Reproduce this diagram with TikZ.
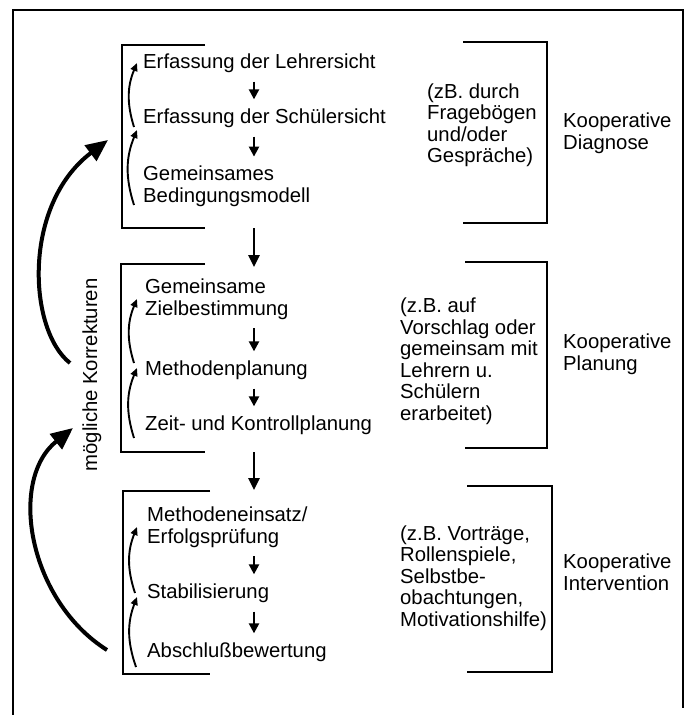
\documentclass[tikz,border=0pt]{standalone}
\usepackage{fontspec}
\setmainfont{Liberation Sans}
\usetikzlibrary{arrows.meta}

\begin{document}
\begin{tikzpicture}[x=1pt, y=-1pt,
  txt/.style={anchor=west, inner sep=0pt, align=left, font=\fontsize{20.3}{21.5}\selectfont},
  brk/.style={line width=2.8pt},
  down/.style={line width=2.3pt, -{Triangle[length=10pt,width=10pt]}, shorten <=9pt, shorten >=9pt},
  link/.style={line width=2.5pt, -{Triangle[length=12pt,width=11pt]}},
  back/.style={line width=1.9pt, -{Triangle[length=8pt,width=7pt]}},
  big/.style={line width=4pt, -{Triangle[length=22pt,width=19pt]}}]
\useasboundingbox (0,0) rectangle (688,715);
\fill[white] (0,0) rectangle (688,715);

% outer frame
\draw[line width=2.4pt] (13,715) -- (13,10) -- (683,10) -- (683,708);

% brackets
\foreach \t/\b/\x/\e in {45/228/122/205, 264/452/121/205, 491/674/123/210}
  \draw[brk] (\e,\t) -- (\x,\t) -- (\x,\b) -- (\e,\b);
\foreach \t/\b/\x/\e in {42/223/547/463, 262/448/547/465, 486/672/552/467}
  \draw[brk] (\e,\t) -- (\x,\t) -- (\x,\b) -- (\e,\b);

% Diagnose
\node[txt] (l1a) at (143,63) {Erfassung der Lehrersicht};
\node[txt] (l1b) at (143,118) {Erfassung der Schülersicht};
\node[txt] (l1c) at (143,186) {Gemeinsames\\Bedingungsmodell};
\node[txt] (n1) at (427,125) {(zB. durch\\Fragebögen\\und/oder\\Gespräche)};
\node[txt] (k1) at (563,133) {Kooperative\\Diagnose};

% Planung
\node[txt] (l2a) at (145,299) {Gemeinsame\\Zielbestimmung};
\node[txt] (l2b) at (145,370) {Methodenplanung};
\node[txt] (l2c) at (145,425) {Zeit- und Kontrollplanung};
\node[txt] (n2) at (400,361) {(z.B. auf\\Vorschlag oder\\gemeinsam mit\\Lehrern u.\\Schülern\\erarbeitet)};
\node[txt] (k2) at (563,354) {Kooperative\\Planung};

% Intervention
\node[txt] (l3a) at (147,527) {Methodeneinsatz/\\Erfolgsprüfung};
\node[txt] (l3b) at (147,593) {Stabilisierung};
\node[txt] (l3c) at (147,652) {Abschlußbewertung};
\node[txt] (n3) at (400,578) {(z.B. Vorträge,\\Rollenspiele,\\Selbstbe-\\obachtungen,\\Motivationshilfe)};
\node[txt] (k3) at (563,572) {Kooperative\\Intervention};

\node[txt, anchor=center, rotate=90] (mk) at (92,375) {mögliche Korrekturen};

% steps
\coordinate (m) at (254,0);
\foreach \a/\b in {l1a/l1b, l1b/l1c, l2a/l2b, l2b/l2c, l3a/l3b, l3b/l3c}
  \draw[down] (\a.south -| m) -- (\b.north -| m);

\coordinate (c1) at (254,228);
\coordinate (c2) at (254,267);
\coordinate (c3) at (254,452);
\coordinate (c4) at (254,490);
\draw[link] (c1) -- (c2);
\draw[link] (c3) -- (c4);

% small feedback arcs
\draw[back] ([shift={(-9pt,-9pt)}]l1b.west) to[bend left=20] ([xshift=-6pt]l1a.west);
\draw[back] ([shift={(-9pt,-19pt)}]l1c.west) to[bend left=20] ([shift={(-6pt,-12pt)}]l1b.west);
\draw[back] ([shift={(-11pt,7pt)}]l2b.west) to[bend left=20] ([xshift=-8pt]l2a.west);
\draw[back] ([shift={(-11pt,-13pt)}]l2c.west) to[bend left=20] ([shift={(-8pt,2pt)}]l2b.west);
\draw[back] ([xshift=-12pt]l3b.west) to[bend left=20] ([xshift=-10pt]l3a.west);
\draw[back] ([shift={(-11pt,-15pt)}]l3c.west) to[bend left=20] ([shift={(-10pt,-4pt)}]l3b.west);

% big arcs
\coordinate (u1) at (70,363);
\coordinate (u2) at (108,140);
\coordinate (v1) at (107,650);
\coordinate (v2) at (73,428);
\draw[big] (u1) .. controls (28,330) and (22,205) .. (u2);
\draw[big] (v1) .. controls (28,600) and (8,480) .. (v2);
\end{tikzpicture}
\end{document}
